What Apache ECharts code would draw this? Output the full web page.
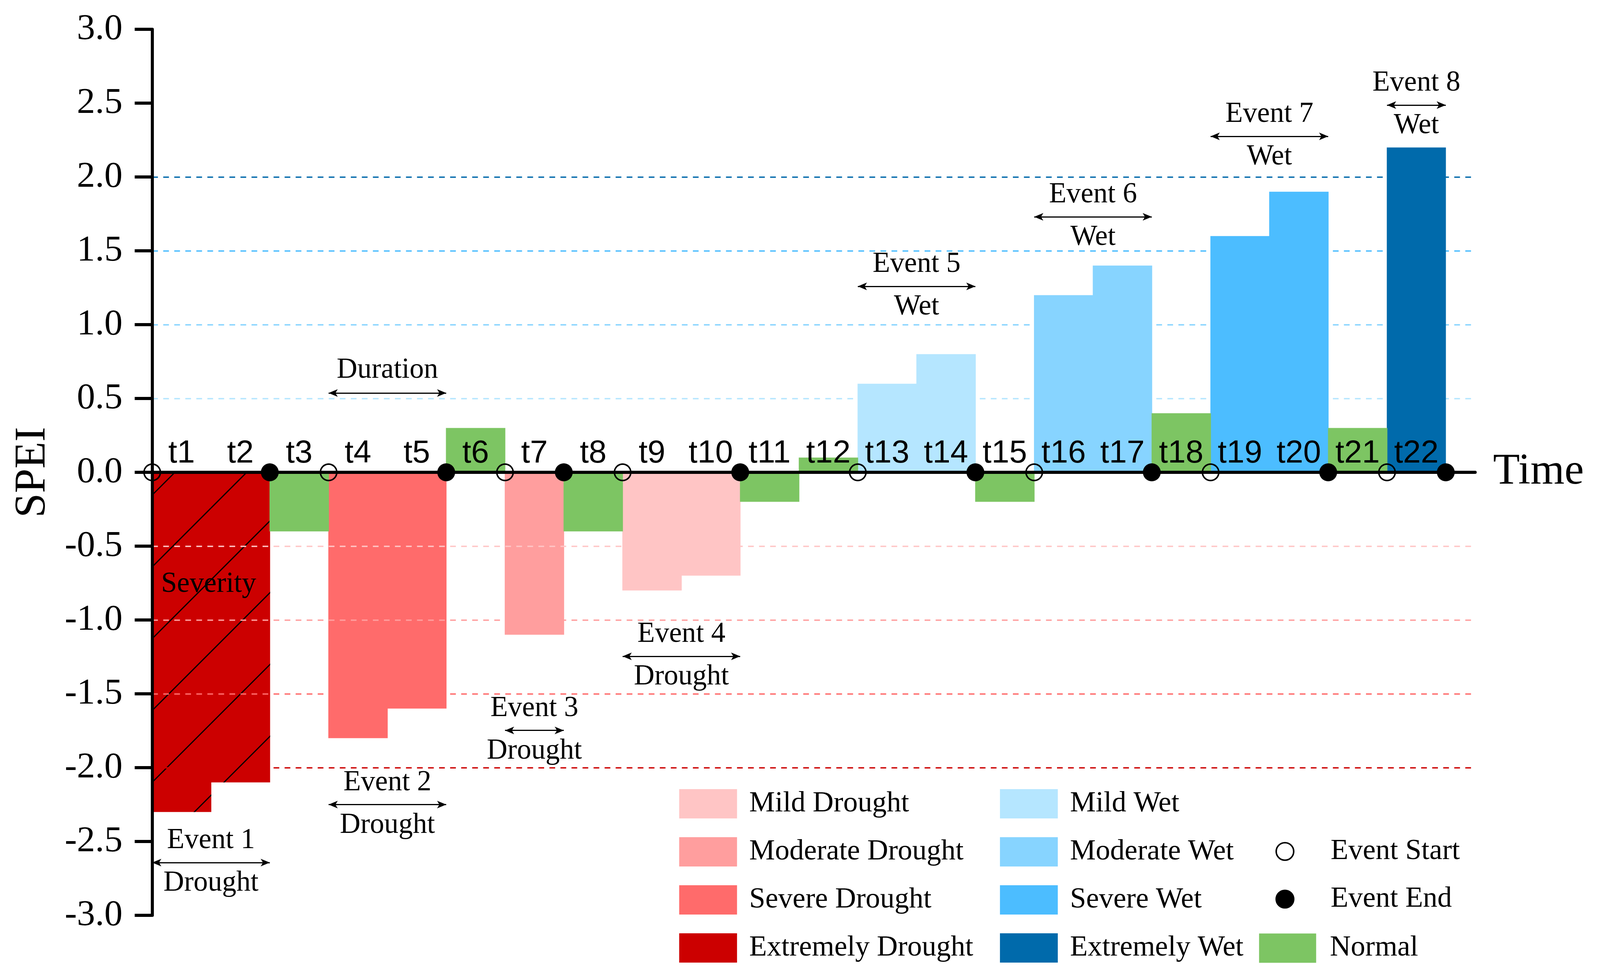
<!DOCTYPE html>
<html><head><meta charset="utf-8">
<script src="https://cdn.jsdelivr.net/npm/echarts@6/dist/echarts.min.js"></script>
<style>html,body{margin:0;padding:0;background:#fff;overflow:hidden}#c{width:100vw;height:100vh}</style>
</head><body><div id="c"></div>
<script>
// ---- data ----
const categories = ['t1','t2','t3','t4','t5','t6','t7','t8','t9','t10','t11','t12','t13','t14','t15','t16','t17','t18','t19','t20','t21','t22'];
const speiValues = [-2.3,-2.1,-0.4,-1.8,-1.6,0.3,-1.1,-0.4,-0.8,-0.7,-0.2,0.1,0.6,0.8,-0.2,1.2,1.4,0.4,1.6,1.9,0.3,2.2];
const speiClass = ['Extremely Drought','Extremely Drought','Normal','Severe Drought','Severe Drought','Normal','Moderate Drought','Normal','Mild Drought','Mild Drought','Normal','Normal','Mild Wet','Mild Wet','Normal','Moderate Wet','Moderate Wet','Normal','Severe Wet','Severe Wet','Normal','Extremely Wet'];
const classNames = ['Mild Drought','Moderate Drought','Severe Drought','Extremely Drought','Mild Wet','Moderate Wet','Severe Wet','Extremely Wet','Normal'];
const classColors = ['#FFC5C5','#FF9E9E','#FF6B6B','#CC0000','#B5E6FF','#87D4FF','#4CBDFF','#006AAB','#7DC563'];
const hatchedPeriods = [0,1];
const eventNames = ['Event 1','Event 2','Event 3','Event 4','Event 5','Event 6','Event 7','Event 8'];
const eventKinds = ['Drought','Drought','Drought','Drought','Wet','Wet','Wet','Wet'];
const eventStart = [0,3,6,8,12,15,18,21];
const eventEnd = [2,5,7,10,14,17,20,22];
const eventArrowY = [-2.643,-2.25,-1.748,-1.246,1.259,1.73,2.275,2.487];
const durationSpan = [3,5];
const durationArrowY = 0.537;
const severityPos = [0.96,-0.76];
const thresholds = [-2,-1.5,-1,-0.5,0.5,1,1.5,2];
const thresholdColors = ['#CC0000','#FF6B6B','#FF9E9E','#FFC5C5','#B5E6FF','#87D4FF','#4CBDFF','#006AAB'];
const yMin = -3, yMax = 3, yStep = 0.5;

// ---- layout scaling (design size 4205 x 2506) ----
const W = window.innerWidth || 4205, H = window.innerHeight || 2506;
const sx = W/4205, sy = H/2506, sf = Math.min(sx, sy);
const X = v => v*sx, Y = v => v*sy, F = v => v*sf;

const SERIF = 'Liberation Serif';
const SANS = 'Liberation Sans';
const chart = echarts.init(document.getElementById('c'), null, {renderer:'canvas'});

const hatch = {symbol:'rect', symbolSize:1, color:'#000', dashArrayX:[1,0], dashArrayY:[F(2.6),F(130)], rotation:-Math.PI/4};

const barSeries = classNames.map((name,k)=>({
  type:'bar', name, xAxisIndex:0, yAxisIndex:0, barWidth:'101%', barGap:'-100%', z:2,
  itemStyle:{color:classColors[k]},
  data: speiValues.map((v,i)=> speiClass[i]===name ? (hatchedPeriods.includes(i) ? {value:v, itemStyle:{decal:hatch}} : v) : '-')
}));

const arrowStyle = {color:'#000', width:F(3), type:'solid', opacity:1};
const arrowLines = eventStart.map((s,i)=>[{coord:[s,eventArrowY[i]]},{coord:[eventEnd[i],eventArrowY[i]]}]);
arrowLines.push([{coord:[durationSpan[0],durationArrowY]},{coord:[durationSpan[1],durationArrowY]}]);

const textData = [];
eventStart.forEach((s,i)=>{
  const mid = (s+eventEnd[i])/2;
  textData.push([mid, eventArrowY[i]+0.148, eventNames[i]]);
  textData.push([mid, eventArrowY[i]-0.14, eventKinds[i]]);
});
textData.push([(durationSpan[0]+durationSpan[1])/2, durationArrowY+0.153, 'Duration']);
textData.push([severityPos[0], severityPos[1], 'Severity']);

// period labels sit at the centre of each category band
const periodLabelData = categories.map((c,i)=>[i+0.5, 0, c]);

const negLines = [], posLines = [];
thresholds.forEach((t,i)=>{
  const item = {yAxis:t, lineStyle:{color:thresholdColors[i]}};
  (t<0?negLines:posLines).push(item);
});
const dashStyle = {width:F(3.5), type:[F(15),F(14)], opacity:1};

const legendText = pad => ({fontFamily:SERIF, fontSize:F(76), color:'#000', lineHeight:F(75), padding:[0,0,0,X(pad)]});

const option = {
  backgroundColor:'#fff',
  animation:false,
  grid:[
    {left:X(400), right:X(405), top:Y(75), bottom:Y(163)},
    {left:X(400), right:X(328), top:Y(75), bottom:Y(163)}
  ],
  xAxis:[
    {type:'category', gridIndex:0, data:categories, boundaryGap:true, show:false},
    {type:'value', gridIndex:1, min:0, max:22.5, z:6,
     axisLine:{show:true, onZero:true, lineStyle:{color:'#000', width:F(8)}},
     axisTick:{show:false}, axisLabel:{show:false}, splitLine:{show:false},
     name:'Time', nameLocation:'end', nameGap:X(47),
     nameTextStyle:{fontFamily:SERIF, fontSize:F(115), color:'#000', verticalAlign:'middle'}}
  ],
  yAxis:[
    {type:'value', gridIndex:0, min:yMin, max:yMax, interval:yStep, show:false},
    {type:'value', gridIndex:1, min:yMin, max:yMax, interval:yStep, z:6,
     axisLine:{show:true, lineStyle:{color:'#000', width:F(8)}},
     axisTick:{show:true, inside:false, length:X(46), lineStyle:{color:'#000', width:F(8)}},
     axisLabel:{margin:X(78), fontFamily:SERIF, fontSize:F(96), color:'#000', formatter:v=>v.toFixed(1)},
     splitLine:{show:false},
     name:'SPEI', nameLocation:'middle', nameGap:X(255),
     nameTextStyle:{fontFamily:SERIF, fontSize:F(116), color:'#000'}}
  ],
  legend:[
    {data:classNames.slice(0,4), orient:'vertical', left:X(1785), top:Y(2020), padding:0, icon:'rect',
     itemWidth:X(152), itemHeight:Y(75), itemGap:Y(48), textStyle:legendText(27)},
    {data:classNames.slice(4,8), orient:'vertical', left:X(2628), top:Y(2020), padding:0, icon:'rect',
     itemWidth:X(152), itemHeight:Y(75), itemGap:Y(48), textStyle:legendText(27)},
    {data:['Event Start','Event End'], orient:'vertical', left:X(3352), top:Y(2142.5), padding:0, icon:'circle',
     itemWidth:X(152), itemHeight:F(46), itemGap:Y(48), itemStyle:{borderWidth:F(4), borderColor:'#000', opacity:1},
     textStyle:legendText(39)},
    {data:['Normal'], orient:'vertical', left:X(3309), top:Y(2389.5), padding:0, icon:'rect',
     itemWidth:X(150), itemHeight:Y(75), itemGap:Y(48), textStyle:legendText(31)}
  ],
  series:[
    ...barSeries,
    {type:'scatter', name:'gridPos', xAxisIndex:1, yAxisIndex:1, data:[], silent:true,
     markLine:{z:1, silent:true, symbol:['none','none'], label:{show:false}, lineStyle:dashStyle, data:posLines}},
    {type:'scatter', name:'gridNeg', xAxisIndex:1, yAxisIndex:1, data:[], silent:true,
     markLine:{z:5, silent:true, symbol:['none','none'], label:{show:false}, lineStyle:dashStyle, data:negLines}},
    {type:'scatter', name:'periods', xAxisIndex:1, yAxisIndex:1, z:8, silent:true,
     symbolSize:1, itemStyle:{color:'rgba(0,0,0,0)', opacity:1},
     label:{show:true, position:'top', distance:Y(6), formatter:p=>p.data[2], fontFamily:SANS, fontSize:F(84), color:'#000', opacity:1},
     data:periodLabelData},
    {type:'scatter', name:'annotations', xAxisIndex:1, yAxisIndex:1, z:12, silent:true,
     symbolSize:1, itemStyle:{color:'rgba(0,0,0,0)', opacity:1},
     label:{show:true, position:'inside', formatter:p=>p.data[2], fontFamily:SERIF, fontSize:F(75), color:'#000', opacity:1},
     data:textData,
     markLine:{z:12, silent:true, symbol:['arrow','arrow'], symbolSize:[F(15),F(24)], label:{show:false}, lineStyle:arrowStyle, data:arrowLines}},
    {type:'scatter', name:'Event Start', xAxisIndex:1, yAxisIndex:1, z:15, symbol:'circle', symbolSize:F(43),
     itemStyle:{color:'rgba(0,0,0,0)', borderColor:'#000', borderWidth:F(4), opacity:1},
     data:eventStart.map(x=>[x,0])},
    {type:'scatter', name:'Event End', xAxisIndex:1, yAxisIndex:1, z:15, symbol:'circle', symbolSize:F(47),
     itemStyle:{color:'#000', borderColor:'#000', borderWidth:0, opacity:1},
     data:eventEnd.map(x=>[x,0])}
  ]
};
chart.setOption(option);
</script></body></html>
